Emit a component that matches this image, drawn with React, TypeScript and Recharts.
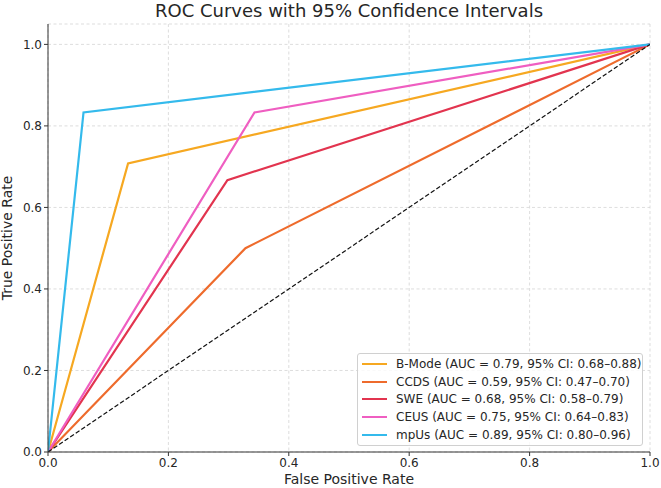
import React from 'react';
import { LineChart, Line, XAxis, YAxis, CartesianGrid } from 'recharts';

// Classifier names and their summary statistics
const modalities = ['B-Mode', 'CCDS', 'SWE', 'CEUS', 'mpUs'];
const aucValues = [0.79, 0.59, 0.68, 0.75, 0.89];
const ciLow = [0.68, 0.47, 0.58, 0.64, 0.8];
const ciHigh = [0.88, 0.7, 0.79, 0.83, 0.96];
const colors = ['#F6A821', '#EE6B2C', '#E2344F', '#EF5EC1', '#34BAEC'];

// ROC operating points (false positive rate / true positive rate) per modality
const bModeFpr = [0, 0.133, 1];
const bModeTpr = [0, 0.708, 1];
const ccdsFpr = [0, 0.328, 1];
const ccdsTpr = [0, 0.5, 1];
const sweFpr = [0, 0.298, 1];
const sweTpr = [0, 0.667, 1];
const ceusFpr = [0, 0.343, 1];
const ceusTpr = [0, 0.833, 1];
const mpusFpr = [0, 0.059, 1];
const mpusTpr = [0, 0.833, 1];

// Chance line
const chanceFpr = [0, 1];
const chanceTpr = [0, 1];

const axisTicks = [0, 0.2, 0.4, 0.6, 0.8, 1.0];

const toPoints = (fpr: number[], tpr: number[]) =>
  fpr.map((x, i) => ({ fpr: x, tpr: tpr[i] }));

const curves = [
  toPoints(bModeFpr, bModeTpr),
  toPoints(ccdsFpr, ccdsTpr),
  toPoints(sweFpr, sweTpr),
  toPoints(ceusFpr, ceusTpr),
  toPoints(mpusFpr, mpusTpr),
];
const chance = toPoints(chanceFpr, chanceTpr);

const FONT = "'DejaVu Sans', sans-serif";
const fmt = (v: number) => v.toFixed(2);
const legendLabel = (i: number) =>
  `${modalities[i]} (AUC = ${fmt(aucValues[i])}, 95% CI: ${fmt(ciLow[i])}\u2013${fmt(ciHigh[i])})`;

export default function App() {
  return (
    <div style={{ position: 'absolute', left: 0, top: 0, width: 661, height: 488, background: '#fff', fontFamily: FONT }}>
      <LineChart
        width={661}
        height={488}
        margin={{ top: 24, right: 11, bottom: 0, left: 0 }}
      >
        <CartesianGrid stroke="#d4d4d4" strokeDasharray="3 2.5" strokeWidth={0.8} />
        <XAxis
          type="number"
          dataKey="fpr"
          domain={[0, 1]}
          ticks={axisTicks}
          tickFormatter={(v: number) => v.toFixed(1)}
          height={36}
          allowDataOverflow
          stroke="#333"
          tickSize={4}
          tickMargin={2}
          tick={{ fill: '#262626', fontSize: 12, fontFamily: FONT }}
          label={{
            content: (p: any) => (
              <text x={p.viewBox.x + p.viewBox.width / 2} y={484} textAnchor="middle" fontSize={14} fill="#262626" fontFamily={FONT}>
                False Positive Rate
              </text>
            ),
          }}
        />
        <YAxis
          type="number"
          dataKey="tpr"
          domain={[0, 1.05]}
          ticks={axisTicks}
          tickFormatter={(v: number) => v.toFixed(1)}
          width={48}
          allowDataOverflow
          stroke="#333"
          tickSize={4}
          tickMargin={2}
          tick={{ fill: '#262626', fontSize: 12, fontFamily: FONT }}
          label={{
            content: (p: any) => (
              <text
                x={11.5}
                y={p.viewBox.y + p.viewBox.height / 2}
                transform={`rotate(-90 11.5 ${p.viewBox.y + p.viewBox.height / 2})`}
                textAnchor="middle"
                fontSize={14}
                fill="#262626"
                fontFamily={FONT}
              >
                True Positive Rate
              </text>
            ),
          }}
        />
        {curves.map((d, i) => (
          <Line
            key={modalities[i]}
            data={d}
            dataKey="tpr"
            name={modalities[i]}
            type="linear"
            stroke={colors[i]}
            strokeWidth={2.2}
            dot={false}
            activeDot={false}
            isAnimationActive={false}
          />
        ))}
        <Line
          data={chance}
          dataKey="tpr"
          type="linear"
          stroke="#111"
          strokeWidth={1.2}
          strokeDasharray="4.5 2.2"
          dot={false}
          activeDot={false}
          legendType="none"
          isAnimationActive={false}
        />
        <text x={349} y={17} textAnchor="middle" fontSize={18} fill="#262626" fontFamily={FONT}>
          ROC Curves with 95% Confidence Intervals
        </text>
      </LineChart>
      <div
        style={{
          position: 'absolute',
          left: 357,
          top: 353,
          width: 286,
          height: 93,
          boxSizing: 'border-box',
          border: '1px solid #d0d0d0',
          borderRadius: 3,
          background: 'rgba(255,255,255,0.8)',
          paddingTop: 1,
        }}
      >
        {modalities.map((m, i) => (
          <div key={m} style={{ display: 'flex', alignItems: 'center', height: 17.75 }}>
            <div style={{ width: 25, height: 2.2, background: colors[i], marginLeft: 4, marginRight: 9 }} />
            <span style={{ fontSize: 12, color: '#262626', whiteSpace: 'nowrap', lineHeight: '14px' }}>
              {legendLabel(i)}
            </span>
          </div>
        ))}
      </div>
    </div>
  );
}
